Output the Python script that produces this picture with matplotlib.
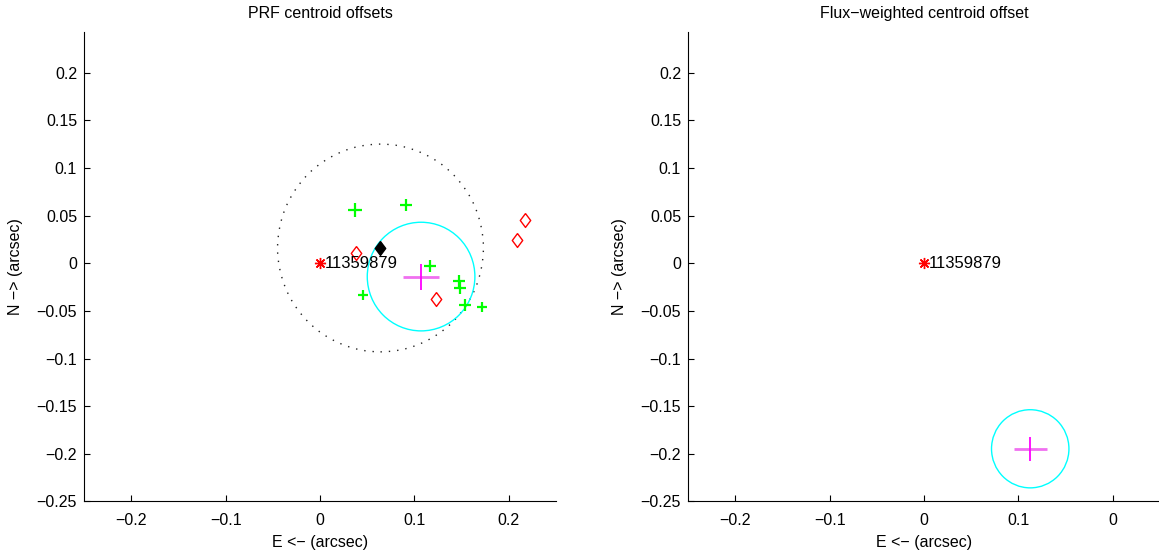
import matplotlib
matplotlib.use("Agg")
import matplotlib.pyplot as plt
import numpy as np

plt.rcParams["font.family"] = ["Liberation Sans", "DejaVu Sans"]
plt.rcParams["font.size"] = 11.5

# target star
kic_id = "11359879"
star_x, star_y = 0.0, 0.0

# PRF centroid offsets (left panel)
prf_x = [0.037, 0.091, 0.116, 0.046, 0.147, 0.148, 0.154, 0.171]
prf_y = [0.056, 0.061, -0.003, -0.033, -0.019, -0.026, -0.044, -0.046]
prf_size = [10, 8, 8, 7.5, 8, 8, 8, 7.5]
diam_x = [0.038, 0.123, 0.209, 0.217]
diam_y = [0.011, -0.038, 0.024, 0.045]
mean_x, mean_y = 0.064, 0.016
mean_radius = 0.109
prf_cx, prf_cy = 0.107, -0.014
prf_ex, prf_ey = 0.0188, 0.0137
prf_radius = 0.057

# flux-weighted centroid (right panel)
fw_cx, fw_cy = 0.1125, -0.1947
fw_ex, fw_ey = 0.0176, 0.0123
fw_radius = 0.041

xticks = [-0.2, -0.1, 0.0, 0.1, 0.2]
xlabels_left = ["\u22120.2", "\u22120.1", "0", "0.1", "0.2"]
xlabels_right = ["\u22120.2", "\u22120.1", "0", "0.1", "0"]
yticks = [0.2, 0.15, 0.1, 0.05, 0, -0.05, -0.1, -0.15, -0.2, -0.25]
ylabels = ["0.2", "0.15", "0.1", "0.05", "0", "\u22120.05", "\u22120.1",
           "\u22120.15", "\u22120.2", "\u22120.25"]

diamond = [(0, 1), (0.75, 0), (0, -1), (-0.75, 0), (0, 1)]
asterisk = (8, 2, 0)

fig = plt.figure(figsize=(11.59, 5.52), dpi=100)
ax1 = fig.add_axes([0.0725, 0.0915, 0.4073, 0.8505])
ax2 = fig.add_axes([0.5936, 0.0915, 0.4073, 0.8505])


def style(ax, title, xlabels):
    ax.set_xlim(-0.25, 0.25)
    ax.set_ylim(-0.25, 0.2426)
    ax.set_xticks(xticks)
    ax.set_xticklabels(xlabels)
    ax.set_yticks(yticks)
    ax.set_yticklabels(ylabels)
    ax.spines["top"].set_visible(False)
    ax.spines["right"].set_visible(False)
    for s in ("left", "bottom"):
        ax.spines[s].set_linewidth(0.8)
    ax.tick_params(direction="in", length=4, width=0.8, pad=5)
    ax.tick_params(axis="x", pad=8)
    ax.set_title(title, pad=10, fontsize=11.5)
    ax.set_xlabel("E <\u2212 (arcsec)", labelpad=5)
    ax.set_ylabel("N \u2212> (arcsec)", labelpad=10)


# left panel
ax1.add_patch(plt.Circle((mean_x, mean_y), mean_radius, fill=False,
                         color="#222222", lw=1.0, ls=(0, (1, 5))))
ax1.add_patch(plt.Circle((prf_cx, prf_cy), prf_radius, fill=False,
                         color="#00ffff", lw=1.0))
for x, y, s in zip(prf_x, prf_y, prf_size):
    ax1.plot(x, y, "+", color="#00ff00", ms=s, mew=1.6)
ax1.plot(diam_x, diam_y, ls="none", marker=diamond, ms=10, mfc="none",
         mec="#ff0000", mew=1.0)
ax1.plot(mean_x, mean_y, ls="none", marker=diamond, ms=10, mfc="black",
         mec="black")
ax1.errorbar(prf_cx, prf_cy, xerr=prf_ex, fmt="none", ecolor="#f070f0",
             elinewidth=2, capsize=0)
ax1.errorbar(prf_cx, prf_cy, yerr=prf_ey, fmt="none", ecolor="#ff00ff",
             elinewidth=1.3, capsize=0)
ax1.plot(star_x, star_y, ls="none", marker=asterisk, ms=8, color="#ff0000",
         mew=1.0)
ax1.annotate(kic_id, (star_x, star_y), xytext=(3.5, 0),
             textcoords="offset points", ha="left", va="center", fontsize=12)
style(ax1, "PRF centroid offsets", xlabels_left)

# right panel
ax2.add_patch(plt.Circle((fw_cx, fw_cy), fw_radius, fill=False,
                         color="#00ffff", lw=1.0))
ax2.errorbar(fw_cx, fw_cy, xerr=fw_ex, fmt="none", ecolor="#f070f0",
             elinewidth=2, capsize=0)
ax2.errorbar(fw_cx, fw_cy, yerr=fw_ey, fmt="none", ecolor="#ff00ff",
             elinewidth=1.3, capsize=0)
ax2.plot(star_x, star_y, ls="none", marker=asterisk, ms=8, color="#ff0000",
         mew=1.0)
ax2.annotate(kic_id, (star_x, star_y), xytext=(3.5, 0),
             textcoords="offset points", ha="left", va="center", fontsize=12)
style(ax2, "Flux\u2212weighted centroid offset", xlabels_right)

fig.savefig("out.png", dpi=100)
